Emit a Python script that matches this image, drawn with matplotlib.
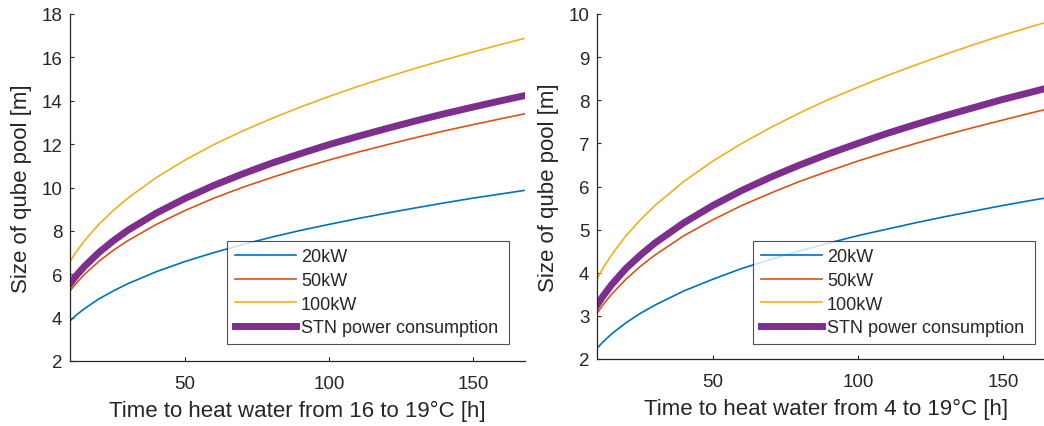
import matplotlib
matplotlib.use("Agg")
import matplotlib.pyplot as plt

# heating time [h]
hours = [10, 12, 15, 20, 25, 30, 40, 50, 60, 70, 80, 90, 100, 110, 120, 130, 140, 150, 160, 168]

# 16 -> 19 C, cube edge length [m]
left_20kw = [3.85, 4.10, 4.41, 4.86, 5.23, 5.56, 6.12, 6.59, 7.00, 7.37, 7.71, 8.02, 8.30, 8.57, 8.82, 9.06, 9.29, 9.51, 9.71, 9.87]
left_50kw = [5.23, 5.56, 5.99, 6.59, 7.10, 7.54, 8.30, 8.94, 9.51, 10.01, 10.46, 10.88, 11.27, 11.63, 11.97, 12.30, 12.61, 12.90, 13.18, 13.40]
left_100kw = [6.59, 7.00, 7.54, 8.30, 8.94, 9.50, 10.46, 11.27, 11.98, 12.61, 13.18, 13.71, 14.20, 14.66, 15.09, 15.50, 15.88, 16.25, 16.61, 16.88]
left_stn = [5.56, 5.91, 6.36, 7.00, 7.54, 8.02, 8.82, 9.50, 10.10, 10.63, 11.12, 11.56, 11.98, 12.36, 12.72, 13.07, 13.40, 13.71, 14.01, 14.24]

# 4 -> 19 C
right_20kw = [2.25, 2.39, 2.58, 2.84, 3.06, 3.25, 3.58, 3.85, 4.10, 4.31, 4.51, 4.69, 4.86, 5.01, 5.16, 5.30, 5.43, 5.56, 5.68, 5.77]
right_50kw = [3.06, 3.25, 3.50, 3.85, 4.15, 4.41, 4.86, 5.23, 5.56, 5.85, 6.12, 6.36, 6.59, 6.80, 7.00, 7.19, 7.37, 7.54, 7.71, 7.84]
right_100kw = [3.85, 4.10, 4.41, 4.86, 5.23, 5.56, 6.12, 6.59, 7.00, 7.37, 7.71, 8.02, 8.30, 8.57, 8.82, 9.06, 9.29, 9.51, 9.71, 9.87]
right_stn = [3.25, 3.45, 3.72, 4.10, 4.41, 4.69, 5.16, 5.56, 5.91, 6.22, 6.50, 6.76, 7.00, 7.23, 7.44, 7.64, 7.83, 8.02, 8.19, 8.33]

labels = ["20kW", "50kW", "100kW", "STN power consumption"]
colors = ["#0072BD", "#D95319", "#EDB120", "#7E2F8E"]
widths = [1.2, 1.2, 1.2, 5.0]

plt.rcParams["font.family"] = ["Liberation Sans", "DejaVu Sans"]
INK = "#262626"

W, H = 1044, 427
fig = plt.figure(figsize=(W / 100, H / 100), dpi=100)

panels = [
    ((70, 15, 455, 347), [left_20kw, left_50kw, left_100kw, left_stn],
     (2, 18), range(2, 19, 2), "Time to heat water from 16 to 19°C [h]", (227, 244, 282, 101)),
    ((597, 15, 458, 345), [right_20kw, right_50kw, right_100kw, right_stn],
     (2, 10), range(2, 11), "Time to heat water from 4 to 19°C [h]", (753, 244, 282, 101)),
]

for (x0, y0, w, h), series, ylim, yticks, xlabel, leg in panels:
    ax = fig.add_axes([x0 / W, 1 - (y0 + h) / H, w / W, h / H])
    for vals, lab, col, lw in zip(series, labels, colors, widths):
        ax.plot(hours, vals, color=col, linewidth=lw, label=lab)
    ax.set_xlim(10, 168)
    ax.set_ylim(*ylim)
    ax.set_xticks([50, 100, 150])
    ax.set_yticks(list(yticks))
    for side in ["top", "right"]:
        ax.spines[side].set_visible(False)
    for side in ["left", "bottom"]:
        ax.spines[side].set_color(INK)
        ax.spines[side].set_linewidth(0.9)
    ax.tick_params(direction="in", length=3, width=0.8, color=INK,
                   labelcolor=INK, labelsize=13.5)
    ax.tick_params(axis="x", pad=10)
    ax.tick_params(axis="y", pad=5.5)
    ax.set_xlabel(xlabel, fontsize=16, color=INK, labelpad=6)
    ax.set_ylabel("Size of qube pool [m]", fontsize=16, color=INK, labelpad=7)
    lx, ly, lw_, lh = leg
    lgd = ax.legend(loc="lower left",
                    bbox_to_anchor=(lx / W, 1 - (ly + lh) / H, lw_ / W, lh / H),
                    bbox_transform=fig.transFigure, mode="expand",
                    fontsize=13, frameon=True, fancybox=False,
                    handlelength=3.4, handletextpad=0.28, labelspacing=0.37,
                    borderpad=0.42, borderaxespad=0)
    lgd.get_frame().set_edgecolor(INK)
    lgd.get_frame().set_linewidth(0.8)
    for t in lgd.get_texts():
        t.set_color(INK)

fig.savefig("out.png", dpi=100)
